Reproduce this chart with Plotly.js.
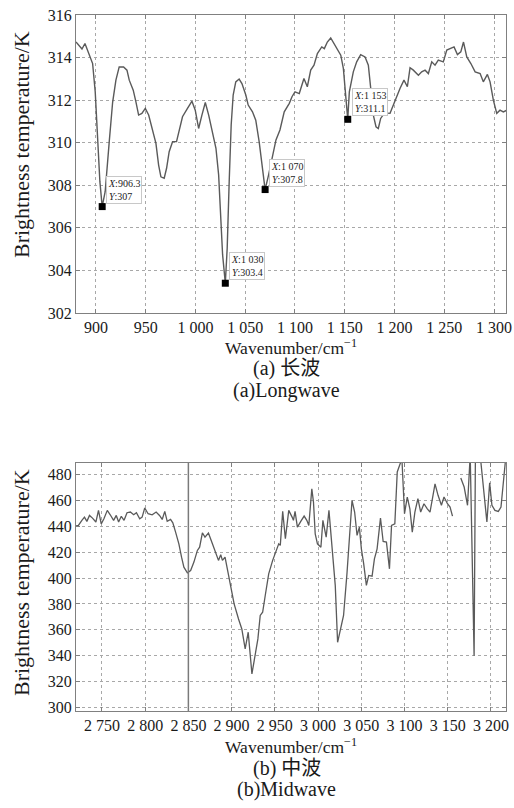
<!DOCTYPE html>
<html>
<head>
<meta charset="utf-8">
<script src="https://cdn.plot.ly/plotly-3.0.1.min.js"></script>
<style>html,body{margin:0;padding:0;background:#fff;}#chart{width:514px;height:808px;}</style>
</head>
<body>
<div id="chart"></div>
<script>
// ---- Longwave spectrum (a) ----
const lwWavenumber = [880,886,889,893,896.7,899.3,901.7,904,906.3,909.3,913.4,916.8,920.1,923.4,927.8,931.2,933.5,937.5,940.2,942.9,946.2,949.6,953,956.3,960.3,963,965.3,968.6,971,973.6,977,981,984.3,987,992,996.5,999.8,1003.2,1006.5,1009.9,1013.3,1017.3,1020.6,1023.3,1025.6,1027.3,1030,1031.9,1033.9,1035.9,1037.9,1040.5,1043.9,1046.7,1050.6,1053,1057.3,1060.6,1064,1067.3,1070,1073.5,1077.5,1080.9,1084.9,1089.2,1094.3,1097,1100,1104.3,1109,1112.4,1115.8,1119.1,1122.5,1126.9,1129.5,1132.5,1135.9,1139.2,1142.5,1146,1148.6,1150.3,1153,1154.6,1158.6,1162,1166,1170.4,1173.7,1176.1,1178.7,1181.4,1183.7,1186.1,1190,1195.5,1200.5,1205.5,1209.5,1212.9,1215.6,1218.9,1224,1227.3,1230.7,1234,1237.4,1240.7,1244,1249,1252.5,1256.5,1259.8,1263.2,1266.6,1269.3,1272.6,1276.7,1281,1286,1289.2,1293.3,1296,1299.3,1302.7,1306,1309.3,1313];
const lwTemp = [314.73,314.4,314.66,314.19,313.72,312.4,310.05,308.17,307,307.7,310.05,311.9,312.94,313.56,313.56,313.41,312.94,312.47,311.92,311.3,311.38,311.61,311.3,310.75,309.97,308.95,308.4,308.33,308.8,309.58,310.05,310.05,310.67,311.22,311.61,311.95,311.53,310.67,311.3,311.89,311.3,310.52,309.74,308.49,306.61,304.73,303.4,305.05,308.17,310.83,312.24,312.86,312.99,312.78,312.24,311.77,311.45,311.06,310.05,308.95,307.8,308.49,309.42,310.13,310.6,311.45,311.85,312.16,312.39,312.31,313.02,312.63,313.41,313.64,314.19,314.5,314.42,314.73,314.92,314.66,314.35,314.11,313.49,312.55,311.1,312.39,313.33,313.8,314.14,314.03,313.64,312.55,311.3,310.75,310.67,311.14,311.4,311.38,312,312.55,312.94,312.63,313.52,313.41,313.17,313.33,313.41,313.25,313.8,313.64,313.88,313.8,314.35,314.42,314.5,314.14,314.27,314.73,314.03,313.72,313.33,313.25,312.86,313.21,312.86,312,311.38,311.53,311.45,311.53];
const lwTipX = [906.3, 1030, 1070, 1153];
const lwTipY = [307, 303.4, 307.8, 311.1];
const lwTipXText = ['906.3', '1 030', '1 070', '1 153'];
const lwTipYText = ['307', '303.4', '307.8', '311.1'];
const lwTickVals = [900,950,1000,1050,1100,1150,1200,1250,1300];
const lwTickText = ['900','950','1 000','1 050','1 100','1 150','1 200','1 250','1 300'];
const lwYTicks = [302,304,306,308,310,312,314,316];

// ---- Midwave spectrum (b) ----
const mwWavenumber = [2720,2722.8,2726.8,2729.8,2732.6,2735.6,2739.1,2743,2746,2749.2,2752.3,2756.2,2759.6,2763.5,2766.6,2769.3,2772.4,2775.6,2779,2782.9,2786.7,2789.9,2793.7,2796.5,2799.5,2803.4,2808.1,2812.7,2816.6,2819.7,2822.7,2825.5,2829.4,2832,2835.2,2839,2842.1,2844.8,2848.8,2852.6,2856.4,2860.4,2863,2866.2,2869.2,2873.2,2877.8,2881.6,2884.8,2887.4,2889.4,2892.4,2895.2,2899,2902.9,2908,2911.8,2915.7,2919.2,2923.5,2926.9,2930.4,2933.1,2935.9,2938.9,2942.9,2947.5,2951.3,2954.5,2956.3,2959.1,2962.2,2966.1,2970,2971.5,2973.4,2976.1,2980,2983.9,2987,2989.3,2992.8,2994.7,2996.7,2999.3,3003.3,3005.6,3007.5,3009.4,3012.6,3016.1,3019.9,3022.6,3025.7,3029.5,3033.5,3036.5,3039.3,3042.3,3045.1,3047.8,3050.1,3052.8,3055.9,3058.6,3062.5,3065.2,3068.3,3072.2,3075.3,3079.1,3082.6,3085,3088.8,3091.6,3094.6,3097,3100,3103.2,3106.2,3109,3112,3115.5,3118.7,3122.5,3126.4,3129.5,3132.3,3135.3,3138.8,3142.7,3145.7,3149.7,3152.7,3155.5,3160,3165.1,3169,3172.9,3176,3180.5,3182,3187.5,3195.3,3198.5,3201.1,3204.6,3208.5,3211.6,3214.7,3217.4];
const mwTemp = [440.1,440.6,444.5,447,443.7,448.3,446.2,443.2,452.2,441.8,445.7,452.2,448.8,444.5,448.3,443.2,447.6,444.5,450.4,450.9,448.8,450.4,445.7,447,454,449.6,448.8,450.9,448.3,445.2,451.4,443.7,445.2,442.6,435.4,426.4,416.1,408.4,404,405.8,412.3,421.3,423.8,434.9,431.6,434.7,426.4,420,413.6,417.9,413.6,416.1,407.1,394.3,380,368.4,360.7,345.3,358.2,326,340.2,353,371.1,373.6,386.5,403.2,413.6,421.3,426.4,425.2,451.4,430.3,452.2,447,444.5,451.4,439.3,443.7,447.8,444.5,440.6,468.9,458.6,434.1,426.4,423.8,444.5,438,431.6,452.2,422.5,394.3,350.4,359.5,371.1,404,435.4,459.9,450.9,432.9,439.3,422.5,410.9,394.3,402,401.4,414.8,422.5,446.2,428.2,427.7,407.1,440.6,441.8,481.8,487,492,449.6,462.5,453.4,435.4,450.9,461.2,450.9,457.3,453.4,450.9,461.2,472.7,463.8,456.1,462.5,457.3,454.7,447.8,null,477.1,470.2,456.1,495,340,495,495,443.2,473.5,456.1,452.2,451.4,454.7,479.2,495];
const mwRefLine = 2850;
const mwTickVals = [2750,2800,2850,2900,2950,3000,3050,3100,3150,3200];
const mwTickText = ['2 750','2 800','2 850','2 900','2 950','3 000','3 050','3 100','3 150','3 200'];
const mwYTicks = [300,320,340,360,380,400,420,440,460,480];

// ---- Text ----
const xTitle = 'Wavenumber/cm<sup>\u22121</sup>';
const yTitle = 'Brightness temperature/K';
const captionsA = ['(a) 长波', '(a)Longwave'];
const captionsB = ['(b) 中波', '(b)Midwave'];

const serif = 'Liberation Serif, Times New Roman, serif';
const cjk = 'Liberation Serif, Noto Sans CJK SC, serif';
const lineColor = '#5a5a5a';
const frameColor = '#808080';
const gridColor = '#a8a8a8';

function axisBase(extra) {
  return Object.assign({
    showline: true, linecolor: frameColor, linewidth: 1, mirror: 'ticks',
    ticks: 'inside', ticklen: 4, tickcolor: frameColor,
    showgrid: true, gridcolor: gridColor, griddash: 'dot', gridwidth: 1,
    zeroline: false, tickfont: {family: serif, size: 16, color: '#1a1a1a'}
  }, extra);
}

const traces = [
  {x: lwWavenumber, y: lwTemp, xaxis: 'x', yaxis: 'y', mode: 'lines', line: {color: lineColor, width: 1.4}, hoverinfo: 'skip'},
  {x: lwTipX, y: lwTipY, xaxis: 'x', yaxis: 'y', mode: 'markers', marker: {symbol: 'square', size: 7, color: '#000'}, hoverinfo: 'skip'},
  {x: mwWavenumber, y: mwTemp, xaxis: 'x2', yaxis: 'y2', mode: 'lines', line: {color: lineColor, width: 1.3}, connectgaps: false, hoverinfo: 'skip'}
];

const annotations = [];
for (let i = 0; i < lwTipX.length; i++) {
  annotations.push({
    x: lwTipX[i], y: lwTipY[i], xref: 'x', yref: 'y', showarrow: false,
    xanchor: 'left', yanchor: 'bottom', xshift: 4, yshift: 3, align: 'left',
    text: '<i>X</i>:' + lwTipXText[i] + '<br><i>Y</i>:' + lwTipYText[i],
    font: {family: serif, size: 10, color: '#222'},
    bgcolor: '#ffffff', bordercolor: '#c8c8c8', borderwidth: 1, borderpad: 1
  });
}
const capFont = {family: cjk, size: 20, color: '#1a1a1a'};
const titleFont = {family: serif, size: 17.5, color: '#1a1a1a'};
const yTitleFont = {family: serif, size: 22, color: '#1a1a1a'};
function txt(xref, x, y, text, font, angle) {
  return {xref: xref, yref: 'paper', x: x, y: y, text: text, showarrow: false, font: font,
    xanchor: 'center', yanchor: 'middle', textangle: angle || 0};
}
// x-axis titles and captions below each panel
annotations.push(txt('x domain', 0.5, 0.5237, xTitle, titleFont));
annotations.push(txt('x domain', 0.49, 0.4914, captionsA[0], capFont));
annotations.push(txt('x domain', 0.49, 0.4598, captionsA[1], capFont));
annotations.push(txt('x2 domain', 0.5, -0.0496, xTitle, titleFont));
annotations.push(txt('x2 domain', 0.49, -0.0833, captionsB[0], capFont));
annotations.push(txt('x2 domain', 0.49, -0.1135, captionsB[1], capFont));
// y-axis titles
annotations.push(txt('paper', -0.1279, 0.8132, yTitle, yTitleFont, -90));
annotations.push(txt('paper', -0.1279, 0.1839, yTitle, yTitleFont, -90));

const layout = {
  width: 514, height: 808,
  margin: {l: 76, r: 8, t: 15, b: 97},
  paper_bgcolor: '#fff', plot_bgcolor: '#fff',
  showlegend: false,
  xaxis: axisBase({domain: [0, 1], anchor: 'y', range: [880, 1312], tickvals: lwTickVals, ticktext: lwTickText}),
  yaxis: axisBase({domain: [0.5718, 1], anchor: 'x', range: [302, 316], tickvals: lwYTicks}),
  xaxis2: axisBase({domain: [0, 1], anchor: 'y2', range: [2720, 3217.4], tickvals: mwTickVals, ticktext: mwTickText}),
  yaxis2: axisBase({domain: [0, 0.3568], anchor: 'x2', range: [297.4, 489], tickvals: mwYTicks}),
  shapes: [{type: 'line', xref: 'x2', yref: 'y2 domain', x0: mwRefLine, x1: mwRefLine, y0: 0, y1: 1,
    line: {color: '#7a7a7a', width: 1.5}}],
  annotations: annotations
};

Plotly.newPlot('chart', traces, layout, {staticPlot: true, displayModeBar: false});
</script>
</body>
</html>
